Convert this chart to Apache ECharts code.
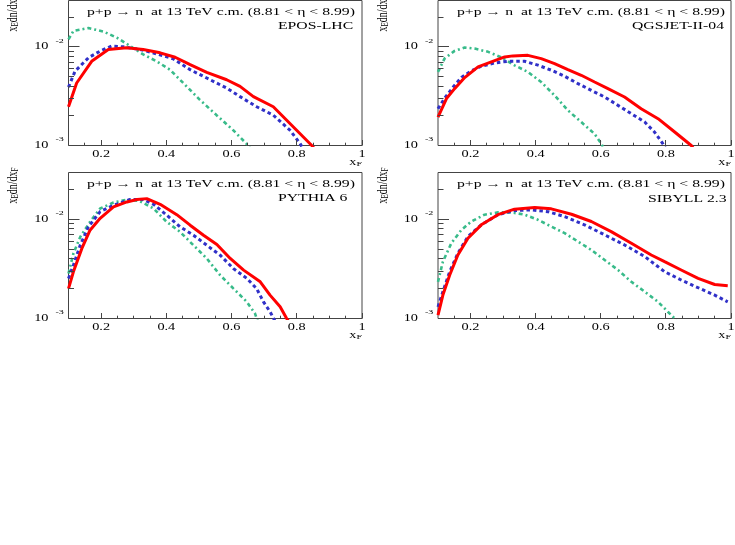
<!DOCTYPE html>
<html><head><meta charset="utf-8">
<script src="https://cdn.jsdelivr.net/npm/echarts@6/dist/echarts.min.js"></script>
<style>html,body{margin:0;padding:0;background:#fff}#c{width:735px;height:545px}</style>
</head><body><div id="c"></div><script>
// ---------------- data ----------------
const modelNames = ['EPOS-LHC', 'QGSJET-II-04', 'PYTHIA 6', 'SIBYLL 2.3'];
const titleText = 'p+p \u2192 n  at 13 TeV c.m. (8.81 < \u03b7 < 8.99)';

const eposRed = [[0.1,0.00247],[0.125,0.0043],[0.171,0.00714],[0.222,0.0094],[0.278,0.0098],[0.329,0.0094],[0.381,0.0087],[0.427,0.00785],[0.473,0.0066],[0.524,0.0055],[0.585,0.00464],[0.626,0.00397],[0.667,0.00313],[0.728,0.00247],[0.779,0.00167],[0.846,0.001],[0.87,0.0008]];
const eposBlue = [[0.1,0.0039],[0.12,0.00565],[0.161,0.00774],[0.197,0.00906],[0.232,0.0102],[0.268,0.01],[0.32,0.0094],[0.37,0.0085],[0.421,0.00757],[0.473,0.00587],[0.524,0.00483],[0.585,0.00382],[0.626,0.00313],[0.677,0.00247],[0.728,0.00203],[0.779,0.00143],[0.81,0.00105],[0.83,0.0008]];
const eposGreen = [[0.1,0.0119],[0.115,0.0145],[0.161,0.0155],[0.207,0.0143],[0.248,0.0124],[0.289,0.0102],[0.329,0.00838],[0.37,0.00715],[0.411,0.00587],[0.452,0.0043],[0.503,0.0029],[0.554,0.00203],[0.605,0.00143],[0.651,0.001],[0.68,0.0007]];

const qgsRed = [[0.1,0.00194],[0.126,0.00299],[0.151,0.00377],[0.182,0.00488],[0.223,0.00627],[0.264,0.00704],[0.305,0.0079],[0.33,0.0081],[0.376,0.0082],[0.417,0.0076],[0.458,0.00677],[0.499,0.00588],[0.54,0.00515],[0.581,0.0044],[0.622,0.00377],[0.673,0.0031],[0.724,0.00236],[0.776,0.00187],[0.827,0.00137],[0.878,0.001],[0.9,0.0008]];
const qgsBlue = [[0.1,0.00236],[0.12,0.003],[0.146,0.0039],[0.172,0.0049],[0.202,0.0057],[0.233,0.00636],[0.274,0.00687],[0.315,0.00714],[0.366,0.00714],[0.407,0.00652],[0.448,0.0058],[0.489,0.00503],[0.53,0.00424],[0.571,0.00362],[0.612,0.0031],[0.653,0.00255],[0.694,0.0021],[0.735,0.00173],[0.765,0.00137],[0.791,0.00104],[0.81,0.0008]];
const qgsGreen = [[0.1,0.00557],[0.12,0.0076],[0.151,0.0091],[0.182,0.00984],[0.213,0.0096],[0.254,0.0089],[0.295,0.0078],[0.335,0.0065],[0.376,0.00557],[0.417,0.0044],[0.458,0.00322],[0.499,0.00227],[0.54,0.00173],[0.581,0.00131],[0.602,0.00104],[0.62,0.0008]];

const pyRed = [[0.1,0.002],[0.115,0.00295],[0.141,0.00507],[0.166,0.00775],[0.197,0.0102],[0.238,0.0133],[0.279,0.0149],[0.31,0.0158],[0.34,0.0161],[0.381,0.0141],[0.432,0.0111],[0.473,0.0087],[0.514,0.0069],[0.555,0.00556],[0.596,0.00402],[0.637,0.00307],[0.688,0.00234],[0.718,0.00172],[0.749,0.00131],[0.769,0.001],[0.79,0.0008]];
const pyBlue = [[0.1,0.00253],[0.115,0.00344],[0.136,0.00547],[0.161,0.00838],[0.197,0.0119],[0.238,0.0138],[0.289,0.0158],[0.33,0.0158],[0.361,0.0141],[0.401,0.011],[0.442,0.00838],[0.483,0.0069],[0.524,0.00547],[0.565,0.00434],[0.606,0.00318],[0.647,0.00253],[0.677,0.002],[0.698,0.00147],[0.718,0.00117],[0.729,0.001],[0.745,0.0008]];
const pyGreen = [[0.1,0.00284],[0.115,0.0045],[0.136,0.00663],[0.166,0.0094],[0.197,0.0128],[0.238,0.0147],[0.279,0.0157],[0.319,0.0152],[0.361,0.0128],[0.401,0.0094],[0.442,0.00745],[0.483,0.00547],[0.524,0.00402],[0.565,0.00273],[0.606,0.002],[0.647,0.00147],[0.672,0.00112],[0.677,0.001],[0.69,0.0008]];

const sibRed = [[0.1,0.00108],[0.115,0.00172],[0.136,0.00274],[0.161,0.00436],[0.192,0.00643],[0.233,0.00877],[0.284,0.0111],[0.335,0.0126],[0.397,0.0131],[0.448,0.0127],[0.51,0.0112],[0.571,0.00947],[0.632,0.0075],[0.694,0.00572],[0.755,0.00436],[0.796,0.00373],[0.847,0.00308],[0.899,0.00253],[0.95,0.0022],[0.99,0.00214]];
const sibBlue = [[0.1,0.00131],[0.115,0.00186],[0.136,0.00296],[0.161,0.00454],[0.192,0.00668],[0.233,0.00877],[0.284,0.0111],[0.335,0.0122],[0.387,0.0124],[0.438,0.0119],[0.489,0.0106],[0.55,0.00877],[0.612,0.00695],[0.673,0.0055],[0.735,0.0042],[0.796,0.00296],[0.847,0.00244],[0.899,0.00204],[0.95,0.00172],[0.99,0.00147]];
const sibGreen = [[0.1,0.00234],[0.115,0.00373],[0.141,0.00573],[0.172,0.0078],[0.202,0.00946],[0.243,0.0111],[0.284,0.0117],[0.325,0.0117],[0.366,0.0111],[0.407,0.00985],[0.448,0.00843],[0.489,0.00723],[0.53,0.00595],[0.571,0.0049],[0.612,0.00388],[0.653,0.00308],[0.694,0.00234],[0.735,0.00186],[0.776,0.00147],[0.806,0.00117],[0.827,0.001],[0.845,0.0008]];

const xMajorTicks = [0.2, 0.4, 0.6, 0.8, 1.0];
const xTickLabels = ['0.2', '0.4', '0.6', '0.8', '1'];
const xMinorTicks = [0.15, 0.25, 0.3, 0.35, 0.45, 0.5, 0.55, 0.65, 0.7, 0.75, 0.85, 0.9, 0.95];
const yMajorTicks = [0.001, 0.01];
const yTickExponents = ['-3', '-2'];
const yMinorTicks = [0.002, 0.003, 0.004, 0.005, 0.006, 0.007, 0.008, 0.009, 0.02];

// ---------------- layout / style ----------------
const X_MIN = 0.1, X_MAX = 1.0, Y_MIN = 0.001, Y_MAX = 0.0295;
const S = 1.43;               // horizontal text stretch of the original picture
const FONT = 'Liberation Serif';
const FRAME = '#444';
const panels = [
  {grid: {left: 68.5, top: 0.5, width: 293.5, height: 145}, red: eposRed, blue: eposBlue, green: eposGreen, tx: 87, ty: 12.5, mx: 278, my: 26},
  {grid: {left: 438, top: 0.5, width: 293, height: 145}, red: qgsRed, blue: qgsBlue, green: qgsGreen, tx: 457, ty: 12.5, mx: 632, my: 26},
  {grid: {left: 68.5, top: 172.5, width: 293.5, height: 146}, red: pyRed, blue: pyBlue, green: pyGreen, tx: 87, ty: 184, mx: 278, my: 198},
  {grid: {left: 438, top: 172.5, width: 293, height: 146}, red: sibRed, blue: sibBlue, green: sibGreen, tx: 457, ty: 184, mx: 648, my: 199}
];
const RED = '#ff0000', BLUE = '#3030c8', GREEN = '#38bb8a';

function renderTick(params, api) {
  const p = api.coord([api.value(0), api.value(1)]);
  const len = api.value(2), dir = api.value(3);
  if (dir === 0) {
    const x = Math.round(p[0] - 0.5) + 0.5;
    return {type: 'line', shape: {x1: x, y1: p[1], x2: x, y2: p[1] - len}, style: {stroke: FRAME, lineWidth: 1}};
  }
  const y = Math.round(p[1] - 0.5) + 0.5;
  return {type: 'line', shape: {x1: p[0], y1: y, x2: p[0] + len, y2: y}, style: {stroke: FRAME, lineWidth: 1}};
}
function renderLabel(params, api) {
  const p = api.coord([api.value(0), api.value(1)]);
  const idx = api.value(2), dir = api.value(3);
  if (dir === 0) {
    return {type: 'text', x: p[0], y: p[1] + 8.5, scaleX: S,
      style: {text: xTickLabels[idx], fontSize: 10, fontFamily: FONT, fill: '#000', align: 'center', verticalAlign: 'middle'}};
  }
  return {type: 'group', children: [
    {type: 'text', x: p[0] - 20, y: p[1], scaleX: S,
      style: {text: '10', fontSize: 10, fontFamily: FONT, fill: '#000', align: 'right', verticalAlign: 'middle'}},
    {type: 'text', x: p[0] - 13, y: p[1] - 6, scaleX: S,
      style: {text: yTickExponents[idx], fontSize: 7, fontFamily: FONT, fill: '#000', align: 'left', verticalAlign: 'middle'}}
  ]};
}

const grids = [], xAxes = [], yAxes = [], series = [], graphics = [];
panels.forEach((pn, i) => {
  grids.push(Object.assign({show: true, borderColor: FRAME, borderWidth: 1, backgroundColor: 'transparent'}, pn.grid));
  xAxes.push({type: 'value', gridIndex: i, min: X_MIN, max: X_MAX, show: true,
    axisLine: {show: false}, axisTick: {show: false}, axisLabel: {show: false}, splitLine: {show: false}});
  yAxes.push({type: 'log', logBase: 10, gridIndex: i, min: Y_MIN, max: Y_MAX, show: true,
    axisLine: {show: false}, axisTick: {show: false}, axisLabel: {show: false}, splitLine: {show: false}, minorTick: {show: false}});
  const common = {type: 'line', xAxisIndex: i, yAxisIndex: i, showSymbol: false, symbol: 'none', clip: true, smooth: false, silent: true};
  series.push(Object.assign({}, common, {data: pn.green, lineStyle: {color: GREEN, width: 2.6, type: [4, 3, 2, 3]}}));
  series.push(Object.assign({}, common, {data: pn.blue, lineStyle: {color: BLUE, width: 3, type: [3.5, 3]}}));
  series.push(Object.assign({}, common, {data: pn.red, lineStyle: {color: RED, width: 3, type: 'solid'}}));
  const tickData = []
    .concat(xMajorTicks.map(v => [v, Y_MIN, 5.5, 0]))
    .concat(xMinorTicks.map(v => [v, Y_MIN, 2.8, 0]))
    .concat(yMajorTicks.map(v => [X_MIN, v, 11, 1]))
    .concat(yMinorTicks.map(v => [X_MIN, v, 5.5, 1]));
  series.push({type: 'custom', xAxisIndex: i, yAxisIndex: i, silent: true, clip: false, z: 10,
    data: tickData, renderItem: renderTick});
  const labelData = []
    .concat(xMajorTicks.map((v, k) => [v, Y_MIN, k, 0]))
    .concat(yMajorTicks.map((v, k) => [X_MIN, v, k, 1]));
  series.push({type: 'custom', xAxisIndex: i, yAxisIndex: i, silent: true, clip: false, z: 10,
    data: labelData, renderItem: renderLabel});

  const g = pn.grid;
  graphics.push({type: 'text', x: pn.tx, y: pn.ty, scaleX: S, z: 20,
    style: {text: titleText, fontSize: 11, fontFamily: FONT, fill: '#000', align: 'left', verticalAlign: 'middle'}});
  graphics.push({type: 'text', x: pn.mx, y: pn.my, scaleX: S, z: 20,
    style: {text: modelNames[i], fontSize: 11, fontFamily: FONT, fill: '#000', align: 'left', verticalAlign: 'middle'}});
  // x axis title x_F
  graphics.push({type: 'text', x: g.left + g.width, y: g.top + g.height + 17, scaleX: S, z: 20,
    style: {text: '{a|x}{b|F}', align: 'right', verticalAlign: 'middle',
      rich: {a: {fontSize: 10, fontFamily: FONT, lineHeight: 10, verticalAlign: 'top', fill: '#000'},
             b: {fontSize: 7, fontFamily: FONT, lineHeight: 7, verticalAlign: 'bottom', padding: [5, 0, 0, 0], fill: '#000'}}}});
  // y axis title x_E dn/dx_F (rotated)
  graphics.push({type: 'text', x: g.left - 55, y: g.top + 31, rotation: Math.PI / 2, scaleY: S, z: 20,
    style: {text: '{a|x}{b|E}{a|dn/dx}{b|F}', align: 'left', verticalAlign: 'middle',
      rich: {a: {fontSize: 10, fontFamily: FONT, lineHeight: 10, verticalAlign: 'top', fill: '#000'},
             b: {fontSize: 7, fontFamily: FONT, lineHeight: 7, verticalAlign: 'bottom', padding: [5, 0, 0, 0], fill: '#000'}}}});
});

const chart = echarts.init(document.getElementById('c'), null, {renderer: 'canvas'});
chart.setOption({
  animation: false,
  backgroundColor: '#fff',
  grid: grids, xAxis: xAxes, yAxis: yAxes, series: series,
  graphic: {elements: graphics}
});
</script></body></html>
